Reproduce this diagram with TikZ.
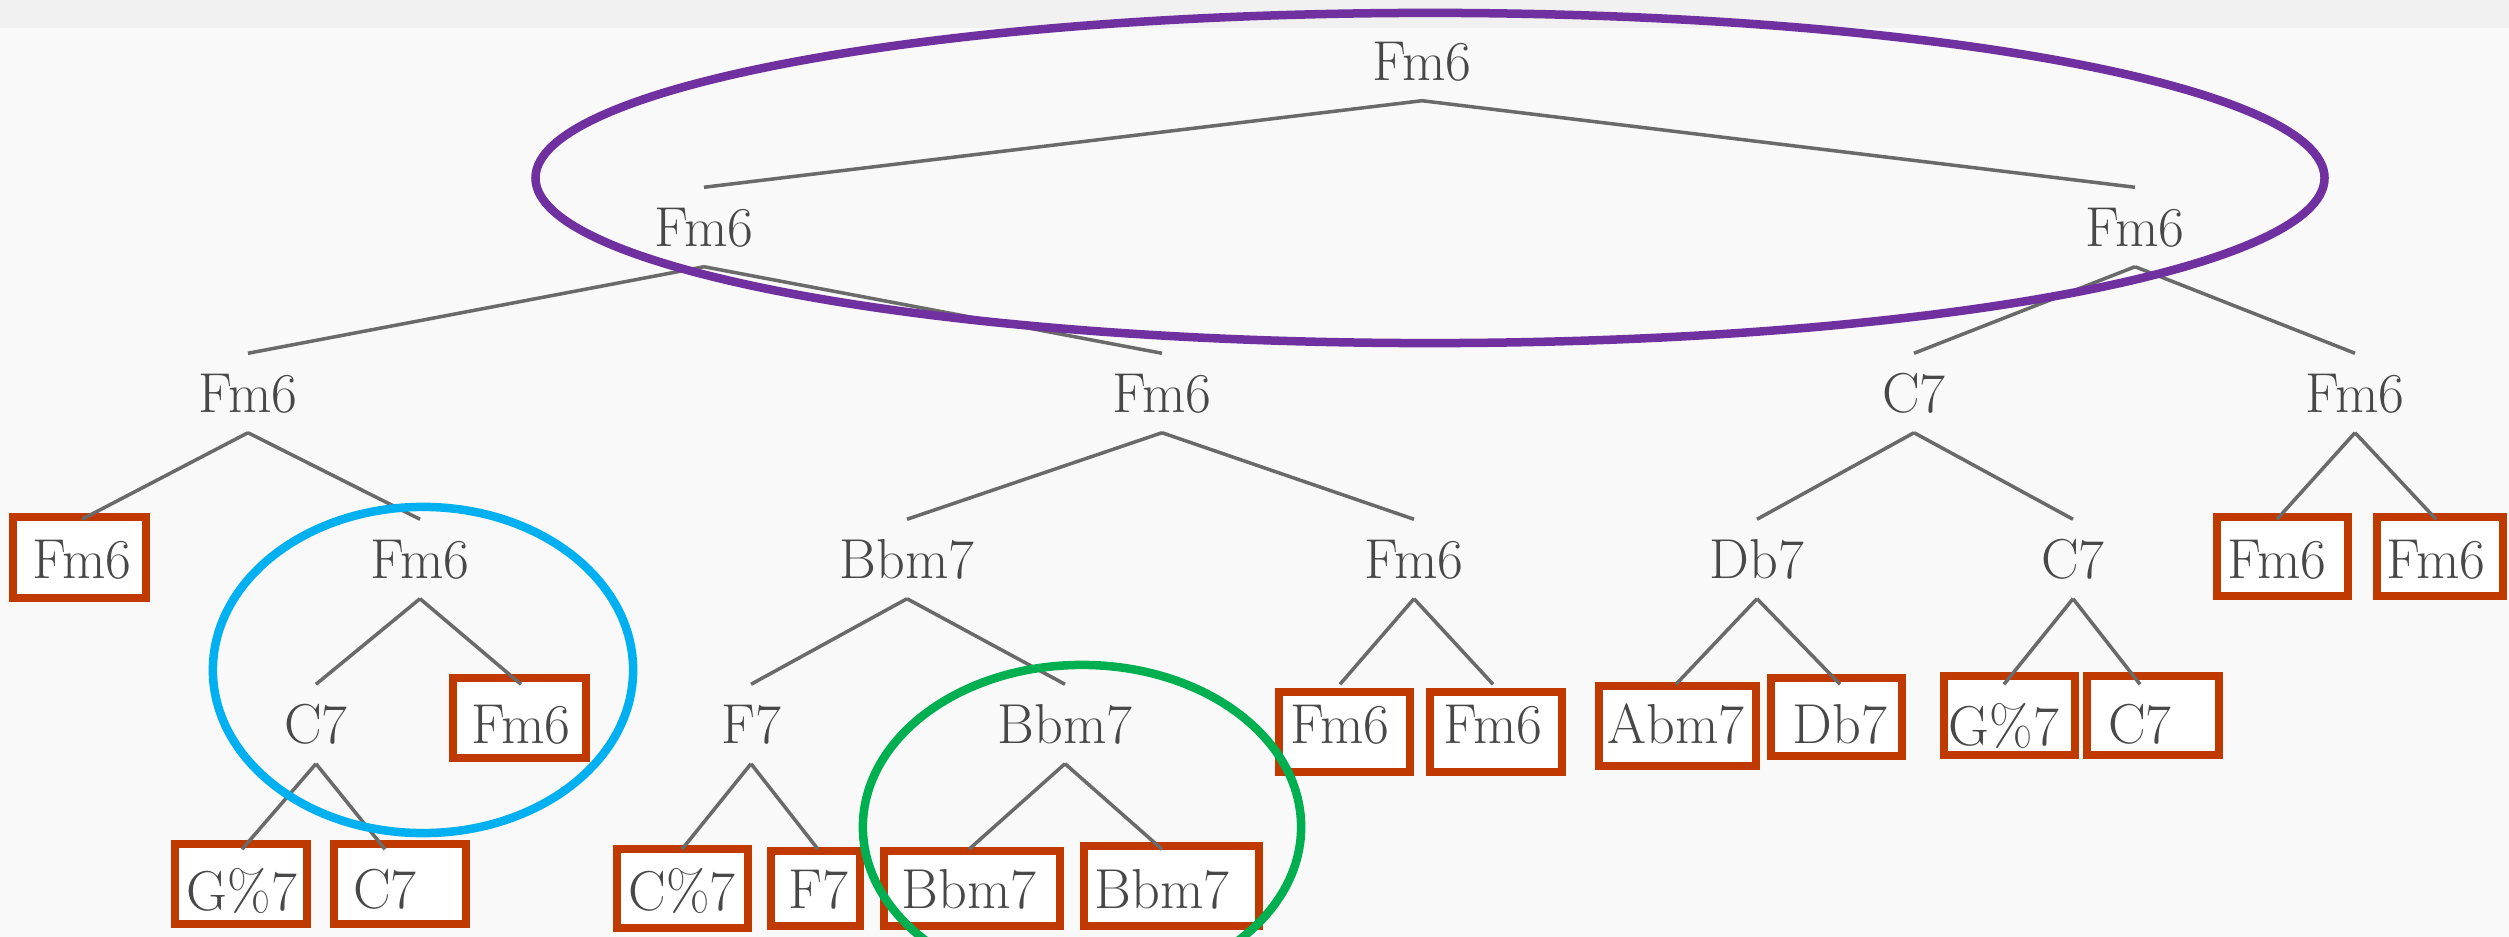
\documentclass[tikz,border=0pt]{standalone}
\definecolor{bgcol}{HTML}{F9F9F9}
\definecolor{stripcol}{HTML}{F1F1F1}
\definecolor{txtcol}{HTML}{484848}
\definecolor{edgecol}{HTML}{6A6A6A}
\definecolor{boxcol}{RGB}{192,58,0}
\definecolor{ringpurple}{HTML}{7030A0}
\definecolor{ringblue}{HTML}{00B0F0}
\definecolor{ringgreen}{HTML}{00B050}
\begin{document}
\begin{tikzpicture}[x=0.01cm,y=-0.01cm,
  lab/.style={text=txtcol, font=\fontsize{16}{19}\selectfont, inner sep=0pt,
              minimum height=0.78cm, text depth=0pt},
  edge/.style={draw=edgecol, line width=1pt},
  markbox/.style={draw=boxcol, fill=white, line width=0.08cm},
  ring/.style={line width=0.085cm}]
\useasboundingbox (0,0) rectangle (2509,937);
\clip (0,0) rectangle (2509,937);
\fill[bgcol] (0,0) rectangle (2509,937);
\fill[stripcol] (0,0) rectangle (2509,28);

% annotation boxes
\draw[markbox] (13,517) rectangle (146,598);
\draw[markbox] (453,678) rectangle (586,758);
\draw[markbox] (175,844) rectangle (307,924);
\draw[markbox] (334,844) rectangle (466,924);
\draw[markbox] (617,849) rectangle (748,928);
\draw[markbox] (771,851) rectangle (860,926);
\draw[markbox] (884,851) rectangle (1060,926);
\draw[markbox] (1084,846) rectangle (1259,926);
\draw[markbox] (1279,692) rectangle (1410,772);
\draw[markbox] (1430,692) rectangle (1562,772);
\draw[markbox] (2217,517) rectangle (2348,596);
\draw[markbox] (2377,517) rectangle (2503,596);
\draw[markbox] (1599,686) rectangle (1756,766);
\draw[markbox] (1771,678) rectangle (1902,756);
\draw[markbox] (1944,676) rectangle (2075,755);
\draw[markbox] (2087,676) rectangle (2219,755);

% tree nodes
\node[lab] (r) at (1422,61) {Fm6};
\node[lab] (a) at (704,227) {Fm6};
\node[lab] (b) at (2135,227) {Fm6};
\node[lab] (a1) at (248,393) {Fm6};
\node[lab] (a2) at (1162,393) {Fm6};
\node[lab] (b1) at (1914,393) {C7};
\node[lab] (b2) at (2355,393) {Fm6};
\node[lab] (a11) at (82,559) {Fm6};
\node[lab] (a12) at (420,559) {Fm6};
\node[lab] (a21) at (907,559) {Bbm7};
\node[lab] (a22) at (1414,559) {Fm6};
\node[lab] (b11) at (1757,559) {Db7};
\node[lab] (b12) at (2073,559) {C7};
\node[lab] (b21) at (2277,559) {Fm6};
\node[lab] (b22) at (2436,559) {Fm6};
\node[lab] (a121) at (316,724) {C7};
\node[lab] (a122) at (521,724) {Fm6};
\node[lab] (a211) at (751,724) {F7};
\node[lab] (a212) at (1065,724) {Bbm7};
\node[lab] (a221) at (1340,724) {Fm6};
\node[lab] (a222) at (1493,724) {Fm6};
\node[lab] (b111) at (1676,724) {Abm7};
\node[lab] (b112) at (1840,724) {Db7};
\node[lab] (b121) at (2004,724) {G\%7};
\node[lab] (b122) at (2140,724) {C7};
\node[lab] (a1211) at (242,889) {G\%7};
\node[lab] (a1212) at (385,889) {C7};
\node[lab] (a2111) at (682,889) {C\%7};
\node[lab] (a2112) at (818,889) {F7};
\node[lab] (a2121) at (969,889) {Bbm7};
\node[lab] (a2122) at (1162,889) {Bbm7};

% edges
\foreach \p/\c in {r/a, r/b, a/a1, a/a2, b/b1, b/b2, a1/a11, a1/a12, a2/a21, a2/a22,
  b1/b11, b1/b12, b2/b21, b2/b22, a12/a121, a12/a122, a21/a211, a21/a212,
  a22/a221, a22/a222, b11/b111, b11/b112, b12/b121, b12/b122,
  a121/a1211, a121/a1212, a211/a2111, a211/a2112, a212/a2121, a212/a2122}
  \draw[edge] (\p.south) -- (\c.north);

% rings
\draw[ring, ringpurple] (1430,178) ellipse [x radius=8.94cm, y radius=1.65cm];
\draw[ring, ringblue] (423,670) ellipse [x radius=2.1cm, y radius=1.63cm];
\draw[ring, ringgreen] (1082,827) ellipse [x radius=2.19cm, y radius=1.62cm];
\end{tikzpicture}
\end{document}
